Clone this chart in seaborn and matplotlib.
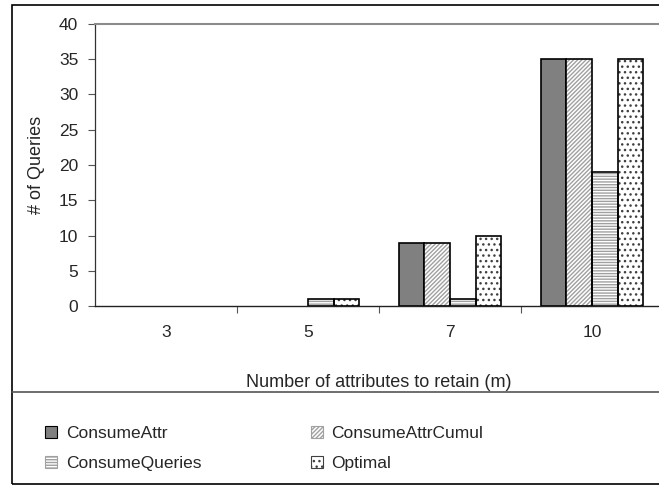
import numpy as np
import pandas as pd
import seaborn as sns
import matplotlib
matplotlib.use("Agg")
import matplotlib.pyplot as plt
from matplotlib.patches import Rectangle, Patch
from matplotlib.lines import Line2D

# values
m_values = ["3", "5", "7", "10"]
series = ["ConsumeAttr", "ConsumeAttrCumul", "ConsumeQueries", "Optimal"]
consume_attr = [0, 0, 9, 35]
consume_attr_cumul = [0, 0, 9, 35]
consume_queries = [0, 1, 1, 19]
optimal = [0, 1, 10, 35]

sns.set_style("white")
plt.rcParams['font.family'] = ['Liberation Sans', 'DejaVu Sans']
plt.rcParams['hatch.linewidth'] = 1.0

df = pd.DataFrame({
    "m": m_values * 4,
    "method": np.repeat(series, len(m_values)),
    "queries": consume_attr + consume_attr_cumul + consume_queries + optimal,
})

# fill, hatch, hatch colour per series
styles = {
    "ConsumeAttr": ("#808080", "", "#808080"),
    "ConsumeAttrCumul": ("white", "////////", "#a0a0a0"),
    "ConsumeQueries": ("white", "------", "#a0a0a0"),
    "Optimal": ("white", "...", "#404040"),
}

fig = plt.figure(figsize=(6.59, 4.87), dpi=100)
ax = fig.add_axes([95 / 659, 181 / 487, 568 / 659, 282 / 487])

sns.barplot(data=df, x="m", y="queries", hue="method", order=m_values,
            hue_order=series, width=0.72, ax=ax, legend=False,
            edgecolor="black", linewidth=1.2, saturation=1)

for i, cont in enumerate(ax.containers):
    fc, hatch, hc = styles[series[i]]
    for p in cont.patches:
        if p.get_height() == 0:
            p.set_visible(False)
            continue
        p.set_facecolor(fc)
        if hatch:
            # hatch in grey, then a black outline on top
            p.set_hatch(hatch)
            p.set_edgecolor(hc)
            p.set_linewidth(0)
            ax.add_patch(Rectangle((p.get_x(), p.get_y()), p.get_width(), p.get_height(),
                                   fill=False, edgecolor="black", linewidth=1.2, zorder=p.get_zorder() + 0.1))

ax.set_ylim(0, 40)
ax.set_yticks(range(0, 41, 5))
ax.set_xlim(-0.5, 3.5)
ax.set_xticks(range(4))
ax.set_xticklabels(m_values)
ax.set_xticks([0.5, 1.5, 2.5], minor=True)
ax.tick_params(axis="x", which="major", length=0, pad=13.5, labelsize=12.5)
ax.tick_params(axis="x", which="minor", length=5, width=0.8, color="#555555", direction="out", bottom=True)
ax.tick_params(axis="y", length=5, width=0.8, direction="out", left=True, pad=7, labelsize=12.5, color="#555555")

ax.set_xlabel("Number of attributes to retain (m)", fontsize=13, labelpad=25)
ax.set_ylabel("# of Queries", fontsize=13, labelpad=10)

ax.spines["right"].set_visible(False)
ax.spines["top"].set_color("#8c8c8c")
ax.spines["top"].set_linewidth(1.5)
ax.spines["left"].set_color("#333333")
ax.spines["bottom"].set_color("#222222")
ax.spines["left"].set_linewidth(0.9)
ax.spines["bottom"].set_linewidth(1.0)

# outer chart frame and legend separator
fig.patches.append(Rectangle((12 / 659, 3 / 487), 1.0, 479 / 487, transform=fig.transFigure,
                             fill=False, edgecolor="black", linewidth=1.2))
fig.lines.append(Line2D([12 / 659, 1.0], [1 - 392 / 487] * 2, transform=fig.transFigure,
                        color="#555555", linewidth=1.2))

handles = []
for s in series:
    fc, hatch, hc = styles[s]
    handles.append(Patch(facecolor=fc, edgecolor=hc if hatch else "black", hatch=hatch, linewidth=0.8))
order = [0, 2, 1, 3]
fig.legend([handles[i] for i in order], [series[i] for i in order], ncol=2,
           loc="upper left", bbox_to_anchor=(38 / 659, 1 - 419 / 487),
           frameon=False, fontsize=12.5, handlelength=0.7, handleheight=0.7,
           handletextpad=0.5, columnspacing=6.3, labelspacing=0.85, borderaxespad=0)

fig.savefig("out.png", dpi=100)
